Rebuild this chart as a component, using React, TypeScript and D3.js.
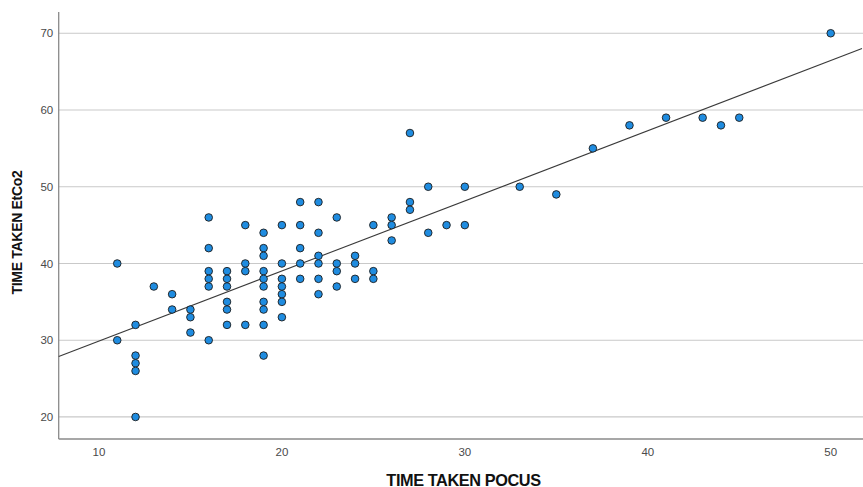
import React from 'react';
import * as d3 from 'd3';

// TIME TAKEN POCUS (x) and TIME TAKEN EtCo2 (y), one entry per case
const pocus = [
  11, 11,
  12, 12, 12, 12, 12,
  13,
  14, 14,
  15, 15, 15,
  16, 16, 16, 16, 16, 16,
  17, 17, 17, 17, 17, 17,
  18, 18, 18, 18,
  19, 19, 19, 19, 19, 19, 19, 19, 19, 19,
  20, 20, 20, 20, 20, 20, 20,
  21, 21, 21, 21, 21,
  22, 22, 22, 22, 22, 22,
  23, 23, 23, 23,
  24, 24, 24,
  25, 25, 25,
  26, 26, 26,
  27, 27, 27,
  28, 28,
  29,
  30, 30,
  33, 35, 37, 39, 41, 43, 44, 45, 50,
];
const etco2 = [
  40, 30,
  32, 28, 27, 26, 20,
  37,
  36, 34,
  34, 33, 31,
  46, 42, 39, 38, 37, 30,
  39, 38, 37, 35, 34, 32,
  45, 40, 39, 32,
  44, 42, 41, 39, 38, 37, 35, 34, 32, 28,
  45, 40, 38, 37, 36, 35, 33,
  48, 45, 42, 40, 38,
  48, 44, 41, 40, 38, 36,
  46, 40, 39, 37,
  41, 40, 38,
  45, 39, 38,
  46, 45, 43,
  57, 48, 47,
  50, 44,
  45,
  50, 45,
  50, 49, 55, 58, 59, 59, 58, 59, 70,
];

const xTicks = [10, 20, 30, 40, 50];
const yTicks = [20, 30, 40, 50, 60, 70];

// fit line
const fitIntercept = 20.74;
const fitSlope = 0.914;

export default function App() {
  const W = 863, H = 487;
  const left = 58.7, right = 862, top = 12, bottom = 439;

  const x = d3.scaleLinear().domain([7.8, 51.71]).range([left, right]);
  const y = d3.scaleLinear().domain([17.13, 72.77]).range([bottom, top]);

  const [x0, x1] = x.domain();
  const fitLine = d3.line<number>()
    .x(d => x(d))
    .y(d => y(fitIntercept + fitSlope * d))([x0, x1]);

  const font = '"Liberation Sans", Arial, sans-serif';

  return (
    <svg width={W} height={H} style={{ position: 'absolute', left: 0, top: 0, background: '#fff' }}>
      {/* grid */}
      {yTicks.map(t => (
        <line key={t} x1={left} x2={right + 1} y1={y(t)} y2={y(t)} stroke="#c9c9c9" strokeWidth={1.2} />
      ))}

      {/* axes */}
      <line x1={left} x2={left} y1={top} y2={bottom} stroke="#8a8a8a" strokeWidth={1.3} />
      <line x1={left} x2={right + 1} y1={bottom} y2={bottom} stroke="#8a8a8a" strokeWidth={1.5} />

      {yTicks.map(t => (
        <text key={t} x={left - 5.5} y={y(t)} dy="0.35em" textAnchor="end"
          fontFamily={font} fontSize={11.5} fill="#4a4a4a">{t}</text>
      ))}
      {xTicks.map(t => (
        <text key={t} x={x(t)} y={456} textAnchor="middle"
          fontFamily={font} fontSize={11.5} fill="#4a4a4a">{t}</text>
      ))}

      {/* fit line */}
      <path d={fitLine ?? ''} fill="none" stroke="#3a3a3a" strokeWidth={1.1} />

      {/* points */}
      {pocus.map((px, i) => (
        <circle key={i} cx={x(px)} cy={y(etco2[i])} r={3.8}
          fill="#1f8ce0" stroke="#1c1c1c" strokeWidth={0.9} />
      ))}

      <text x={463.5} y={485.5} textAnchor="middle" fontFamily={font} fontSize={16.3}
        fontWeight="bold" letterSpacing={-0.4} fill="#111">TIME TAKEN POCUS</text>
      <text transform={`translate(22,232.5) rotate(-90)`} textAnchor="middle" fontFamily={font}
        fontSize={14} fontWeight="bold" letterSpacing={-0.3} fill="#111">TIME TAKEN EtCo2</text>
    </svg>
  );
}
